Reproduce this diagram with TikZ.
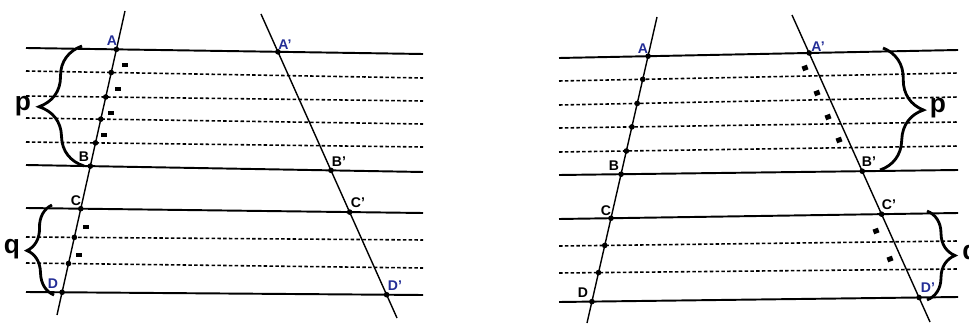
\documentclass[tikz,border=0pt]{standalone}
\usepackage{fontspec}
\setsansfont{Liberation Sans}
\usetikzlibrary{decorations.pathreplacing}

\definecolor{ptblue}{RGB}{35,45,150}

\begin{document}
\begin{tikzpicture}[x=0.02cm, y=-0.02cm,
  hline/.style={line width=1.1pt},
  dline/.style={line width=0.9pt, dash pattern=on 2pt off 1.3pt},
  tline/.style={line width=0.8pt},
  pt/.style={circle, fill=black, inner sep=0pt, minimum size=3.2pt},
  lab/.style={font={\sffamily\bfseries\fontsize{8}{8}\selectfont}, inner sep=0pt},
  seg/.style={fill=black, inner sep=0pt, minimum width=3.2pt, minimum height=2.8pt},
  brc/.style={decorate, line width=1.6pt, decoration={brace, amplitude=#1}},
  big/.style={font={\sffamily\bfseries\fontsize{15}{15}\selectfont}, inner sep=0pt}
]
\useasboundingbox (0,0) rectangle (969,324);

% left figure: parallels
\coordinate (lAa) at (26,48);  \coordinate (lAb) at (423,54);
\coordinate (l1a) at (26,71);  \coordinate (l1b) at (423,78);
\coordinate (l2a) at (26,96);  \coordinate (l2b) at (423,101);
\coordinate (l3a) at (26,118); \coordinate (l3b) at (423,124);
\coordinate (l4a) at (26,142); \coordinate (l4b) at (423,147);
\coordinate (lBa) at (26,165); \coordinate (lBb) at (423,172);
\coordinate (lCa) at (26,208); \coordinate (lCb) at (423,213);
\coordinate (l5a) at (26,237); \coordinate (l5b) at (423,240);
\coordinate (l6a) at (26,263); \coordinate (l6b) at (423,268);
\coordinate (lDa) at (26,292); \coordinate (lDb) at (423,295);
% left figure: transversals
\coordinate (lta) at (125,11); \coordinate (ltb) at (57,315);
\coordinate (lua) at (261,14); \coordinate (lub) at (397,318);

\draw[hline] (lAa) -- (lAb);
\draw[dline] (l1a) -- (l1b);
\draw[dline] (l2a) -- (l2b);
\draw[dline] (l3a) -- (l3b);
\draw[dline] (l4a) -- (l4b);
\draw[hline] (lBa) -- (lBb);
\draw[hline] (lCa) -- (lCb);
\draw[dline] (l5a) -- (l5b);
\draw[dline] (l6a) -- (l6b);
\draw[hline] (lDa) -- (lDb);
\draw[tline] (lta) -- (ltb);
\draw[tline] (lua) -- (lub);

\node[pt] (lA) at (intersection of lta--ltb and lAa--lAb) {};
\node[pt] (lp1) at (intersection of lta--ltb and l1a--l1b) {};
\node[pt] (lp2) at (intersection of lta--ltb and l2a--l2b) {};
\node[pt] (lp3) at (intersection of lta--ltb and l3a--l3b) {};
\node[pt] (lp4) at (intersection of lta--ltb and l4a--l4b) {};
\node[pt] (lB) at (intersection of lta--ltb and lBa--lBb) {};
\node[pt] (lC) at (intersection of lta--ltb and lCa--lCb) {};
\node[pt] (lp5) at (intersection of lta--ltb and l5a--l5b) {};
\node[pt] (lp6) at (intersection of lta--ltb and l6a--l6b) {};
\node[pt] (lD) at (intersection of lta--ltb and lDa--lDb) {};
\node[pt] (lA') at (intersection of lua--lub and lAa--lAb) {};
\node[pt] (lB') at (intersection of lua--lub and lBa--lBb) {};
\node[pt] (lC') at (intersection of lua--lub and lCa--lCb) {};
\node[pt] (lD') at (intersection of lua--lub and lDa--lDb) {};

\node[lab, text=ptblue] (labA) at (112,41) {A};
\node[lab] (labB) at (84,157) {B};
\node[lab] (labC) at (76,201) {C};
\node[lab, text=ptblue] (labD) at (53,284) {D};
\node[lab, text=ptblue] (labA') at (285,45) {A'};
\node[lab] (labB') at (339,162) {B'};
\node[lab] (labC') at (358,203) {C'};
\node[lab, text=ptblue] (labD') at (395,286) {D'};

\node[seg] (lm1) at (125,65) {};
\node[seg] (lm2) at (118,89) {};
\node[seg] (lm3) at (111,113) {};
\node[seg] (lm4) at (104,135) {};
\node[seg] (lm5) at (86,227) {};
\node[seg] (lm6) at (79,255) {};

\coordinate (lpb) at (84,166); \coordinate (lpt) at (82,46);
\coordinate (lqb) at (54,295); \coordinate (lqt) at (52,205);
\draw[brc=0.88cm] (lpb) -- (lpt);
\draw[brc=0.52cm] (lqb) -- (lqt);
\node[big] (lp) at (23,106) {p};
\node[big] (lq) at (12,249) {q};

% right figure: parallels
\coordinate (rAa) at (559,58);  \coordinate (rAb) at (958,50);
\coordinate (r1a) at (559,81);  \coordinate (r1b) at (958,73);
\coordinate (r2a) at (559,105); \coordinate (r2b) at (958,97);
\coordinate (r3a) at (559,128); \coordinate (r3b) at (958,122);
\coordinate (r4a) at (559,152); \coordinate (r4b) at (958,146);
\coordinate (rBa) at (559,175); \coordinate (rBb) at (958,170);
\coordinate (rCa) at (559,219); \coordinate (rCb) at (958,213);
\coordinate (r5a) at (559,246); \coordinate (r5b) at (958,241);
\coordinate (r6a) at (559,273); \coordinate (r6b) at (958,269);
\coordinate (rDa) at (559,302); \coordinate (rDb) at (958,297);
% right figure: transversals
\coordinate (rta) at (657,17); \coordinate (rtb) at (587,323);
\coordinate (rua) at (792,15); \coordinate (rub) at (930,322);

\draw[hline] (rAa) -- (rAb);
\draw[dline] (r1a) -- (r1b);
\draw[dline] (r2a) -- (r2b);
\draw[dline] (r3a) -- (r3b);
\draw[dline] (r4a) -- (r4b);
\draw[hline] (rBa) -- (rBb);
\draw[hline] (rCa) -- (rCb);
\draw[dline] (r5a) -- (r5b);
\draw[dline] (r6a) -- (r6b);
\draw[hline] (rDa) -- (rDb);
\draw[tline] (rta) -- (rtb);
\draw[tline] (rua) -- (rub);

\node[pt] (rA) at (intersection of rta--rtb and rAa--rAb) {};
\node[pt] (rp1) at (intersection of rta--rtb and r1a--r1b) {};
\node[pt] (rp2) at (intersection of rta--rtb and r2a--r2b) {};
\node[pt] (rp3) at (intersection of rta--rtb and r3a--r3b) {};
\node[pt] (rp4) at (intersection of rta--rtb and r4a--r4b) {};
\node[pt] (rB) at (intersection of rta--rtb and rBa--rBb) {};
\node[pt] (rC) at (intersection of rta--rtb and rCa--rCb) {};
\node[pt] (rp5) at (intersection of rta--rtb and r5a--r5b) {};
\node[pt] (rp6) at (intersection of rta--rtb and r6a--r6b) {};
\node[pt] (rD) at (intersection of rta--rtb and rDa--rDb) {};
\node[pt] (rA') at (intersection of rua--rub and rAa--rAb) {};
\node[pt] (rB') at (intersection of rua--rub and rBa--rBb) {};
\node[pt] (rC') at (intersection of rua--rub and rCa--rCb) {};
\node[pt] (rD') at (intersection of rua--rub and rDa--rDb) {};

\node[lab, text=ptblue] (rlabA) at (643,49) {A};
\node[lab] (rlabB) at (614,166) {B};
\node[lab] (rlabC) at (606,211) {C};
\node[lab] (rlabD) at (583,293) {D};
\node[lab, text=ptblue] (rlabA') at (818,47) {A'};
\node[lab] (rlabB') at (869,162) {B'};
\node[lab] (rlabC') at (889,205) {C'};
\node[lab, text=ptblue] (rlabD') at (928,288) {D'};

\node[seg, rotate=20] (rm1) at (805,68) {};
\node[seg, rotate=20] (rm2) at (817,93) {};
\node[seg, rotate=20] (rm3) at (828,117) {};
\node[seg, rotate=20] (rm4) at (839,140) {};
\node[seg, rotate=20] (rm5) at (876,231) {};
\node[seg, rotate=20] (rm6) at (890,259) {};

\coordinate (rpt) at (883,48); \coordinate (rpb) at (880,170);
\coordinate (rqt) at (927,211); \coordinate (rqb) at (927,300);
\draw[brc=0.84cm] (rpt) -- (rpb);
\draw[brc=0.56cm] (rqt) -- (rqb);
\node[big] (rp) at (938,108) {p};
\node[big, anchor=west] (rq) at (962,255) {q};
\end{tikzpicture}
\end{document}
